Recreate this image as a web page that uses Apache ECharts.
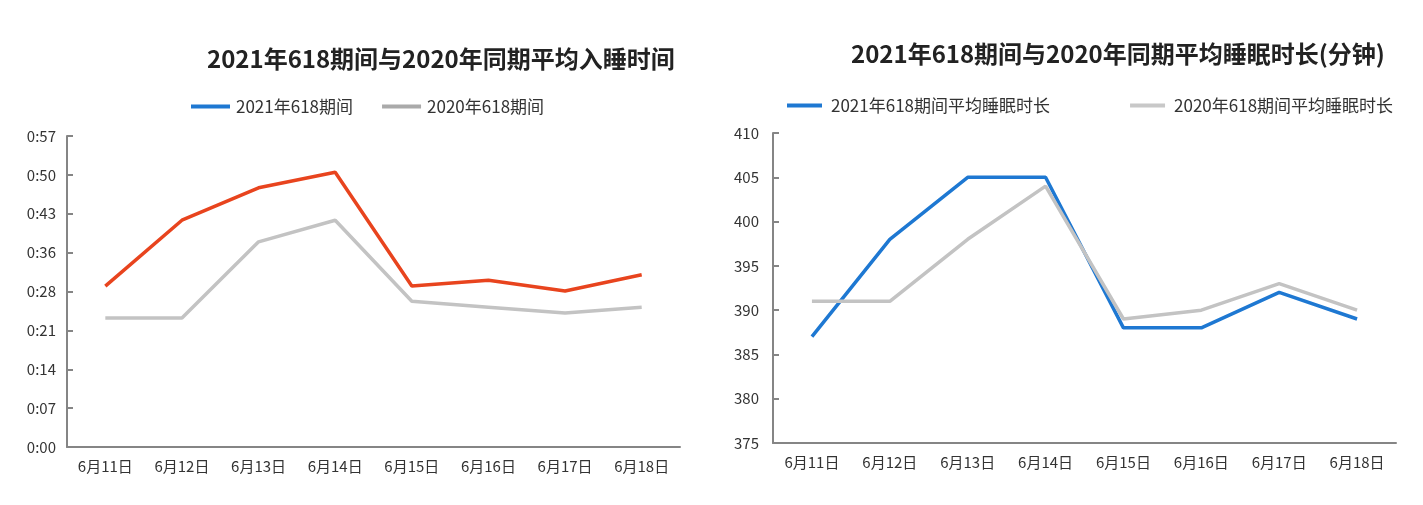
<!DOCTYPE html>
<html>
<head>
<meta charset="utf-8">
<script src="https://cdn.jsdelivr.net/npm/echarts@6/dist/echarts.min.js"></script>
<style>
html,body{margin:0;padding:0;background:#fff;}
#c{width:1423px;height:505px;}
</style>
</head>
<body>
<div id="c"></div>
<script>
const categories = ['6月11日','6月12日','6月13日','6月14日','6月15日','6月16日','6月17日','6月18日'];
// left chart: average time falling asleep after midnight, in minutes
const sleepStart2021 = [29.8, 42.0, 48.0, 50.9, 29.8, 30.9, 28.9, 31.9];
const sleepStart2020 = [23.9, 23.9, 38.0, 42.0, 27.0, 25.9, 24.8, 25.9];
const leftTickLabels = ['0:00','0:07','0:14','0:21','0:28','0:36','0:43','0:50','0:57'];
// right chart: average sleep duration in minutes
const duration2021 = [387, 398, 405, 405, 388, 388, 392, 389];
const duration2020 = [391, 391, 398, 404, 389, 390, 393, 390];

const FONT = '"Noto Sans CJK SC", "Noto Sans", sans-serif';
const axisGray = '#858585';
const red = '#E8441E', blue = '#1E78D2', gray = '#C3C3C3';

const chart = echarts.init(document.getElementById('c'));
const axisCommon = {
  axisLine: { show: true, lineStyle: { color: axisGray, width: 2 } },
  axisLabel: { color: '#333', fontSize: 15, fontFamily: FONT },
  splitLine: { show: false }
};
chart.setOption({
  animation: false,
  textStyle: { fontFamily: FONT },
  title: [
    { text: '2021年618期间与2020年同期平均入睡时间', left: 207, top: 47, padding: 0,
      textStyle: { fontSize: 24, fontWeight: 'bold', color: '#222', fontFamily: FONT } },
    { text: '2021年618期间与2020年同期平均睡眠时长(分钟)', left: 851, top: 42, padding: 0,
      textStyle: { fontSize: 24, fontWeight: 'bold', color: '#222', fontFamily: FONT } }
  ],
  legend: [
    { left: 191, top: 98, padding: 0, icon: 'rect', itemWidth: 39, itemHeight: 4, itemGap: 29,
      textStyle: { fontSize: 17, color: '#333', fontFamily: FONT, padding: [0, 0, 0, 1] },
      data: [
        { name: '2021年618期间', itemStyle: { color: blue } },
        { name: '2020年618期间', itemStyle: { color: '#AAAAAA' } }
      ] },
    { left: 787, top: 97, padding: 0, icon: 'rect', itemWidth: 35, itemHeight: 4, itemGap: 80,
      textStyle: { fontSize: 17, color: '#333', fontFamily: FONT, padding: [0, 0, 0, 4] },
      data: [
        { name: '2021年618期间平均睡眠时长', itemStyle: { color: blue } },
        { name: '2020年618期间平均睡眠时长', itemStyle: { color: '#C8C8C8' } }
      ] }
  ],
  grid: [
    { left: 67, top: 136, width: 613, height: 311 },
    { left: 773, top: 133, width: 623, height: 310 }
  ],
  xAxis: [
    Object.assign({}, axisCommon, { type: 'category', gridIndex: 0, data: categories,
      axisTick: { show: false }, axisLabel: Object.assign({}, axisCommon.axisLabel, { margin: 12 }) }),
    Object.assign({}, axisCommon, { type: 'category', gridIndex: 1, data: categories,
      axisTick: { show: false }, axisLabel: Object.assign({}, axisCommon.axisLabel, { margin: 12 }) })
  ],
  yAxis: [
    Object.assign({}, axisCommon, { type: 'value', gridIndex: 0, min: 0, max: 57.6, interval: 7.2,
      axisTick: { show: true, inside: true, length: 6, lineStyle: { color: axisGray, width: 2 } },
      axisLabel: Object.assign({}, axisCommon.axisLabel, { margin: 11,
        formatter: v => leftTickLabels[Math.round(v / 7.2)] }) }),
    Object.assign({}, axisCommon, { type: 'value', gridIndex: 1, min: 375, max: 410, interval: 5,
      axisTick: { show: true, inside: true, length: 6, lineStyle: { color: axisGray, width: 2 } },
      axisLabel: Object.assign({}, axisCommon.axisLabel, { margin: 14 }) })
  ],
  series: [
    { name: '2020年618期间', type: 'line', xAxisIndex: 0, yAxisIndex: 0, data: sleepStart2020,
      symbol: 'none', lineStyle: { color: gray, width: 3.5 }, itemStyle: { color: gray } },
    { name: '2021年618期间', type: 'line', xAxisIndex: 0, yAxisIndex: 0, data: sleepStart2021,
      symbol: 'none', lineStyle: { color: red, width: 3.5 }, itemStyle: { color: red } },
    { name: '2020年618期间平均睡眠时长', type: 'line', xAxisIndex: 1, yAxisIndex: 1, data: duration2020,
      symbol: 'none', lineStyle: { color: gray, width: 3.5 }, itemStyle: { color: gray }, z: 3 },
    { name: '2021年618期间平均睡眠时长', type: 'line', xAxisIndex: 1, yAxisIndex: 1, data: duration2021,
      symbol: 'none', lineStyle: { color: blue, width: 3.5 }, itemStyle: { color: blue }, z: 2 }
  ]
});
</script>
</body>
</html>
